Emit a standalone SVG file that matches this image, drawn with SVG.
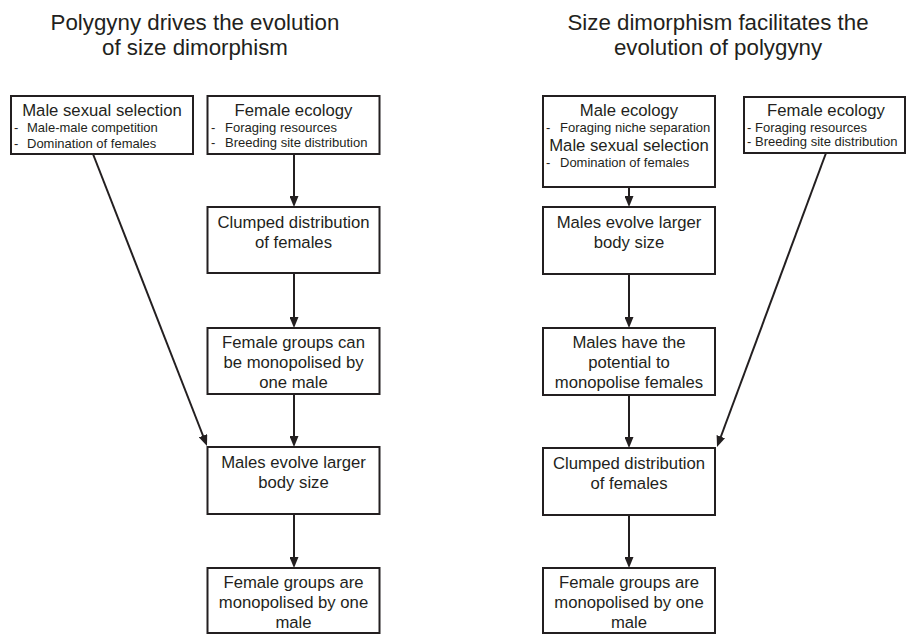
<svg xmlns="http://www.w3.org/2000/svg" width="907" height="634" viewBox="0 0 907 634">
<style>
  .bg { fill: #ffffff; }
  .box { fill: #ffffff; stroke: #231f20; stroke-width: 2; }
  .t { font-family: "Liberation Sans", Arial, sans-serif; fill: #231f20; }
  .title { font-size: 22.3px; text-anchor: middle; }
  .main { font-size: 16.7px; text-anchor: middle; }
  .sub { font-size: 13px; }
  .conn { stroke: #231f20; stroke-width: 2; fill: none; marker-end: url(#arr); }
</style>
<defs>
  <marker id="arr" viewBox="0 0 11 9" refX="3" refY="4.5" markerWidth="11" markerHeight="9" markerUnits="userSpaceOnUse" orient="auto">
    <path d="M0,0 L11,4.5 L0,9 z" fill="#231f20"/>
  </marker>
</defs>
<rect class="bg" x="0" y="0" width="907" height="634"/>

<g id="title-left">
  <text class="t title" x="195" y="30">Polygyny drives the evolution</text>
  <text class="t title" x="195" y="55">of size dimorphism</text>
</g>
<g id="title-right">
  <text class="t title" x="718" y="30">Size dimorphism facilitates the</text>
  <text class="t title" x="718" y="55">evolution of polygyny</text>
</g>

<g id="connectors">
  <line class="conn" x1="294" y1="154" x2="294" y2="199"/>
  <line class="conn" x1="294" y1="273" x2="294" y2="320"/>
  <line class="conn" x1="294" y1="394" x2="294" y2="439"/>
  <line class="conn" x1="294" y1="514" x2="294" y2="560"/>
  <line class="conn" x1="93" y1="154" x2="204.1" y2="438.5"/>
  <line class="conn" x1="629" y1="187" x2="629" y2="199"/>
  <line class="conn" x1="629" y1="274" x2="629" y2="320"/>
  <line class="conn" x1="629" y1="395" x2="629" y2="440"/>
  <line class="conn" x1="629" y1="515" x2="629" y2="560"/>
  <line class="conn" x1="826" y1="153" x2="719.8" y2="439.5"/>
</g>

<g id="left-male-sexual-selection">
  <rect class="box" x="11" y="96" width="182" height="58"/>
  <text class="t main" x="102" y="116">Male sexual selection</text>
  <text class="t sub" x="14" y="132">-</text>
  <text class="t sub" x="27" y="132">Male-male competition</text>
  <text class="t sub" x="14" y="148">-</text>
  <text class="t sub" x="27" y="148">Domination of females</text>
</g>
<g id="left-female-ecology">
  <rect class="box" x="207.5" y="96" width="172" height="58"/>
  <text class="t main" x="293.5" y="116">Female ecology</text>
  <text class="t sub" x="211" y="132">-</text>
  <text class="t sub" x="225" y="132">Foraging resources</text>
  <text class="t sub" x="211" y="147">-</text>
  <text class="t sub" x="225" y="147">Breeding site distribution</text>
</g>
<g id="left-clumped">
  <rect class="box" x="207.5" y="207" width="172" height="66"/>
  <text class="t main" x="293.5" y="228">Clumped distribution</text>
  <text class="t main" x="293.5" y="248">of females</text>
</g>
<g id="left-can-monopolise">
  <rect class="box" x="207.5" y="328" width="172" height="66"/>
  <text class="t main" x="293.5" y="348">Female groups can</text>
  <text class="t main" x="293.5" y="368">be monopolised by</text>
  <text class="t main" x="293.5" y="388">one male</text>
</g>
<g id="left-males-evolve">
  <rect class="box" x="207.5" y="447" width="172" height="67"/>
  <text class="t main" x="293.5" y="468">Males evolve larger</text>
  <text class="t main" x="293.5" y="488">body size</text>
</g>
<g id="left-monopolised">
  <rect class="box" x="207.5" y="568" width="172" height="65"/>
  <text class="t main" x="293.5" y="588">Female groups are</text>
  <text class="t main" x="293.5" y="608">monopolised by one</text>
  <text class="t main" x="293.5" y="628">male</text>
</g>

<g id="right-male-ecology">
  <rect class="box" x="543" y="96" width="172" height="91"/>
  <text class="t main" x="629" y="116">Male ecology</text>
  <text class="t sub" x="546" y="132">-</text>
  <text class="t sub" x="560" y="132">Foraging niche separation</text>
  <text class="t main" x="629" y="151">Male sexual selection</text>
  <text class="t sub" x="546" y="167">-</text>
  <text class="t sub" x="560" y="167">Domination of females</text>
</g>
<g id="right-female-ecology">
  <rect class="box" x="744" y="97" width="161" height="56"/>
  <text class="t main" x="826" y="116">Female ecology</text>
  <text class="t sub" x="747" y="132">-</text>
  <text class="t sub" x="755" y="132">Foraging resources</text>
  <text class="t sub" x="747" y="146">-</text>
  <text class="t sub" x="755" y="146">Breeding site distribution</text>
</g>
<g id="right-males-evolve">
  <rect class="box" x="543" y="207" width="172" height="67"/>
  <text class="t main" x="629" y="228">Males evolve larger</text>
  <text class="t main" x="629" y="248">body size</text>
</g>
<g id="right-potential">
  <rect class="box" x="543" y="328" width="172" height="67"/>
  <text class="t main" x="629" y="348">Males have the</text>
  <text class="t main" x="629" y="368">potential to</text>
  <text class="t main" x="629" y="388">monopolise females</text>
</g>
<g id="right-clumped">
  <rect class="box" x="543" y="448" width="172" height="67"/>
  <text class="t main" x="629" y="469">Clumped distribution</text>
  <text class="t main" x="629" y="489">of females</text>
</g>
<g id="right-monopolised">
  <rect class="box" x="543" y="568" width="172" height="65"/>
  <text class="t main" x="629" y="588">Female groups are</text>
  <text class="t main" x="629" y="608">monopolised by one</text>
  <text class="t main" x="629" y="628">male</text>
</g>
</svg>
